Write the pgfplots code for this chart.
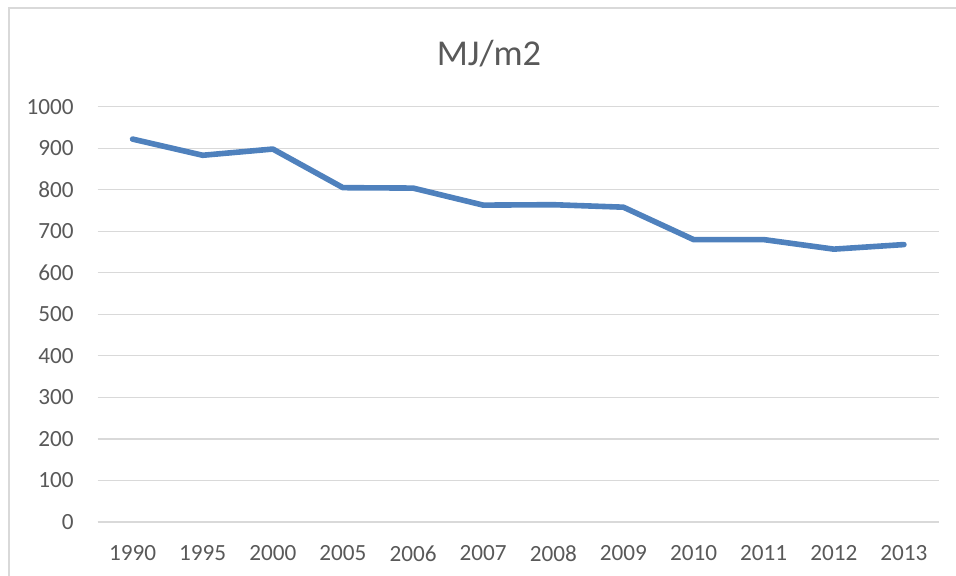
\documentclass[border=0pt]{standalone}
\usepackage{fontspec}
\setmainfont{Carlito}
\usepackage{pgfplots}
\pgfplotsset{compat=1.18}
\definecolor{txt}{HTML}{595959}
\definecolor{grd}{HTML}{D9D9D9}
\definecolor{ser}{HTML}{4F81BD}
\begin{document}
\begin{tikzpicture}
\path[use as bounding box] (0,0) rectangle (478pt,288pt);
\draw[grd,line width=0.7pt] (4.5pt,0) -- (4.5pt,284pt) -- (478pt,284pt);
\node[anchor=base,text=txt,font=\fontsize{18.2}{21}\selectfont,inner sep=0] at (244.5pt,255.15pt) {MJ/m2};
\begin{axis}[
  at={(48.75pt,27pt)}, anchor=south west,
  scale only axis, width=420.75pt, height=207.65pt,
  xmin=-0.5, xmax=11.5, ymin=0, ymax=1000,
  xtick={0,...,11},
  xticklabels={1990,1995,2000,2005,2006,2007,2008,2009,2010,2011,2012,2013},
  ytick={0,100,...,1000},
  ymajorgrids, grid style={grd,line width=0.6pt},
  axis line style={draw=none},
  axis x line*=bottom, axis y line*=left,
  major tick length=0pt,
  tick style={draw=none},
  /pgf/number format/assume math mode=true,
  /pgf/number format/1000 sep={},
  ticklabel style={font=\fontsize{11.6}{13}\selectfont,text=txt,inner sep=0},
  xticklabel style={anchor=north,yshift=-11.5pt},
  yticklabel style={anchor=east,xshift=-11.75pt},
  clip=false,
]
\draw[grd,line width=0.6pt] (axis cs:-0.5,0) -- (axis cs:11.5,0);
\addplot[ser,line width=2.8pt,line join=round,line cap=round] coordinates {
(0,922) (1,883) (2,898) (3,805) (4,804) (5,763) (6,764) (7,758) (8,680) (9,680) (10,657) (11,668)
};
\end{axis}
\end{tikzpicture}
\end{document}
